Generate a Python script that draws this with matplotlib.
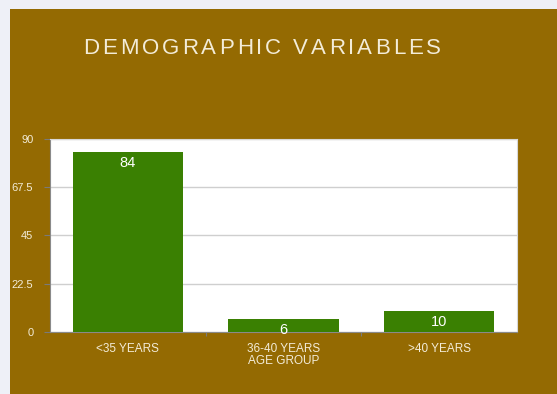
import matplotlib.pyplot as plt

groups = ["<35 YEARS", "36-40 YEARS", ">40 YEARS"]
counts = [84, 6, 10]
yticks = [0, 22.5, 45, 67.5, 90]
ytick_labels = ["0", "22.5", "45", "67.5", "90"]
title = "DEMOGRAPHIC VARIABLES"

plt.rcParams['font.family'] = ['Liberation Sans', 'DejaVu Sans']

brown = "#946a02"
green = "#3a8002"
cream = "#f3ecd8"
W, H = 557, 394

fig = plt.figure(figsize=(W / 100, H / 100), dpi=100)
fig.patch.set_facecolor("#eef0f7")

# brown slide panel behind everything
bg = fig.add_axes([10 / W, 0, (W - 10) / W, (H - 9) / H], zorder=0)
bg.set_facecolor(brown)
bg.set_xticks([])
bg.set_yticks([])
for s in bg.spines.values():
    s.set_visible(False)

# title with extra letter spacing
renderer = fig.canvas.get_renderer()
tracking = 3.0
pieces = []
total = 0
for ch in title:
    t = fig.text(0, 1 - 48 / H, ch, color=cream, fontsize=16, va="center", zorder=5)
    w = t.get_window_extent(renderer).width if ch != " " else 6
    pieces.append((t, w))
    total += w + tracking
total -= tracking
xpos = 262 - total / 2
for t, w in pieces:
    t.set_x(xpos / W)
    xpos += w + tracking

ax = fig.add_axes([50 / W, 1 - 332 / H, 467 / W, 193 / H], zorder=2)
ax.set_facecolor("white")
x = range(len(groups))
ax.bar(x, counts, width=0.71, color=green, zorder=3)
for i, v in enumerate(counts):
    ax.annotate(str(v), (i, v), xytext=(0, -8), textcoords="offset points",
                ha="center", va="center", color="white", fontsize=10.5, zorder=4)

ax.set_xlim(-0.5, 2.5)
ax.set_ylim(0, 90)
ax.set_yticks(yticks)
ax.set_yticklabels(ytick_labels)
ax.set_xticks([0.5, 1.5])
ax.set_xticklabels([])
ax.set_xticks(list(x), groups, minor=True)
ax.tick_params(axis="x", which="minor", length=0, pad=8, labelsize=8.5, labelcolor=cream)
ax.tick_params(axis="x", which="major", length=3, color="#7a7a7a")
ax.tick_params(axis="y", length=4, color="#7a7a7a", labelsize=8, labelcolor=cream, pad=8)
ax.yaxis.grid(True, color="#cfcfcf", linewidth=1, zorder=0)
for side in ["top", "right"]:
    ax.spines[side].set_color("#d8d8d8")
for side in ["left", "bottom"]:
    ax.spines[side].set_color("#8a8a8a")
ax.set_xlabel("AGE GROUP", color=cream, fontsize=8.5, labelpad=0)

fig.savefig("out.png", dpi=100, facecolor=fig.get_facecolor())
